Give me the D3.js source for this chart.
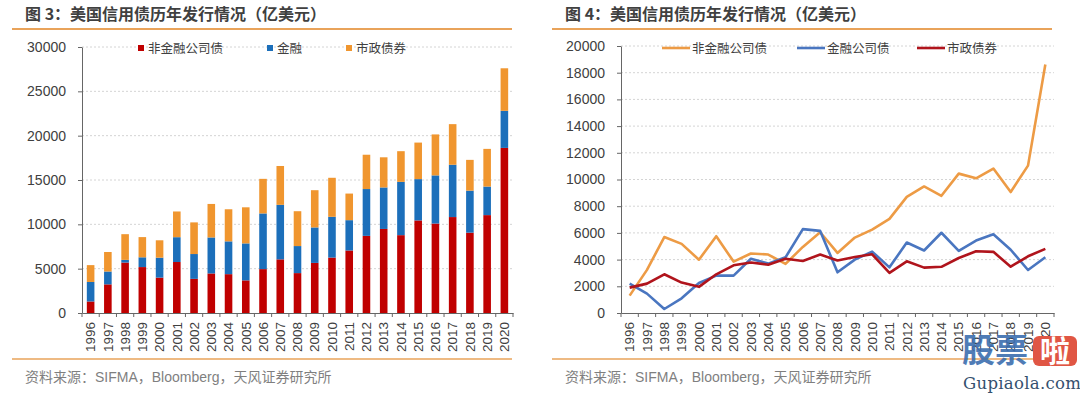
<!DOCTYPE html>
<html>
<head>
<meta charset="utf-8">
<script src="https://cdn.jsdelivr.net/npm/d3@7"></script>
<style>
  body { margin: 0; background: #fff; }
  svg { display: block; font-family: "Liberation Sans", "Noto Sans CJK SC", sans-serif; }
</style>
</head>
<body>
<svg id="chart" width="1080" height="393"></svg>
<script>
// 年份
const years = ["1996","1997","1998","1999","2000","2001","2002","2003","2004","2005","2006","2007","2008",
	"2009","2010","2011","2012","2013","2014","2015","2016","2017","2018","2019","2020"];
// 非金融公司债
const nonFin = [1300, 3230, 5690, 5180, 3990, 5750, 3850, 4460, 4380, 3680, 4950, 6050, 4500,
	5650, 6250, 7050, 8700, 9480, 8780, 10440, 10090, 10820, 9060, 11040, 18620];
// 金融公司债
const fin = [2200, 1450, 300, 1100, 2250, 2800, 2800, 4060, 3700, 4170, 6280, 6150, 3050,
	4000, 4600, 3420, 5280, 4680, 6010, 4660, 5430, 5900, 4740, 3220, 4180];
// 市政债券
const muni = [1900, 2200, 2900, 2280, 1960, 2900, 3570, 3780, 3620, 4070, 3900, 4380, 3930,
	4200, 4400, 3000, 3870, 3400, 3460, 4120, 4620, 4580, 3470, 4250, 4800];

const barTicks = [0, 5000, 10000, 15000, 20000, 25000, 30000];
const lineTicks = [0, 2000, 4000, 6000, 8000, 10000, 12000, 14000, 16000, 18000, 20000];

const svg = d3.select("#chart");

function frame(x0, title) {
	svg.append("text")
		.attr("x", x0 + 25).attr("y", 20)
		.attr("font-family", "Noto Sans CJK SC")
		.attr("font-weight", "bold")
		.attr("font-size", 16)
		.attr("fill", "#404040")
		.text(title);
	svg.append("line")
		.attr("x1", x0 + 12).attr("x2", x0 + 512)
		.attr("y1", 29).attr("y2", 29)
		.attr("stroke", "#e9a35a").attr("stroke-width", 2);
	svg.append("line")
		.attr("x1", x0 + 12).attr("x2", x0 + 512)
		.attr("y1", 359).attr("y2", 359)
		.attr("stroke", "#e9a35a").attr("stroke-width", 1.5);
	svg.append("text")
		.attr("x", x0 + 25).attr("y", 382)
		.attr("font-size", 14)
		.attr("fill", "#7f7f7f")
		.text("资料来源：SIFMA，Bloomberg，天风证券研究所");
}

function axes(g, x, y, ticks, left, right) {
	// grid
	g.selectAll(".grid").data(ticks.slice(1)).enter()
		.append("line")
		.attr("x1", left).attr("x2", right)
		.attr("y1", d => y(d)).attr("y2", d => y(d))
		.attr("stroke", "#d4d4d4")
		.attr("stroke-dasharray", "2,2");

	let yAxis = g.append("g")
		.attr("transform", `translate(${left},0)`)
		.call(d3.axisLeft(y).tickValues(ticks).tickSize(4).tickSizeOuter(0).tickFormat(d3.format("d")));
	yAxis.selectAll("text").attr("font-size", 14).attr("fill", "#404040").attr("x", -16);

	let xAxis = g.append("g")
		.attr("transform", `translate(0,${y(0)})`)
		.call(d3.axisBottom(x).tickSize(0).tickSizeOuter(0));
	xAxis.selectAll("text")
		.attr("transform", "rotate(-90)")
		.attr("x", -9).attr("y", 0).attr("dy", "0.35em")
		.attr("text-anchor", "end")
		.attr("font-size", 13.5)
		.attr("fill", "#404040");
	// category boundary ticks
	xAxis.selectAll(".sep").data(years.concat(["end"])).enter()
		.append("line")
		.attr("x1", (d, i) => left + i * x.step())
		.attr("x2", (d, i) => left + i * x.step())
		.attr("y1", 0).attr("y2", 4)
		.attr("stroke", "#666");
	g.selectAll(".domain").attr("stroke", "#666");
	g.selectAll(".tick line").attr("stroke", "#666");
}

// ---- 图 3 stacked bars
frame(0, "图 3：美国信用债历年发行情况（亿美元）");
{
	const left = 82, right = 513, top = 47, bottom = 313;
	const g = svg.append("g");
	const x = d3.scaleBand().domain(years).range([left, right]).padding(0);
	const y = d3.scaleLinear().domain([0, 30000]).range([bottom, top]);
	axes(g, x, y, barTicks, left, right);

	const rows = years.map((yr, i) => ({year: yr, nonFin: nonFin[i], fin: fin[i], muni: muni[i]}));
	const keys = ["nonFin", "fin", "muni"];
	const colors = {nonFin: "#c00000", fin: "#1c6fba", muni: "#f0962f"};
	const stack = d3.stack().keys(keys)(rows);
	const bw = x.bandwidth() * 0.44;

	g.selectAll(".layer").data(stack).enter()
		.append("g")
		.attr("fill", d => colors[d.key])
		.selectAll("rect").data(d => d).enter()
		.append("rect")
		.attr("x", d => x(d.data.year) + (x.bandwidth() - bw) / 2)
		.attr("width", bw)
		.attr("y", d => y(d[1]))
		.attr("height", d => y(d[0]) - y(d[1]));

	const legend = [
		{name: "非金融公司债", key: "nonFin", x: 138},
		{name: "金融", key: "fin", x: 267},
		{name: "市政债券", key: "muni", x: 346}
	];
	legend.forEach(l => {
		g.append("rect").attr("x", l.x).attr("y", 45).attr("width", 6).attr("height", 6).attr("fill", colors[l.key]);
		g.append("text").attr("x", l.x + 10).attr("y", 52.5)
			.attr("font-size", 12.5).attr("fill", "#404040").text(l.name);
	});
}

// ---- 图 4 lines
frame(540, "图 4：美国信用债历年发行情况（亿美元）");
{
	const left = 621, right = 1054, top = 46, bottom = 313;
	const g = svg.append("g");
	const x = d3.scaleBand().domain(years).range([left, right]).padding(0);
	const y = d3.scaleLinear().domain([0, 20000]).range([bottom, top]);
	axes(g, x, y, lineTicks, left, right);

	const series = [
		{name: "非金融公司债", values: nonFin, color: "#ed9b45", lx: 662},
		{name: "金融公司债", values: fin, color: "#4a76c0", lx: 797},
		{name: "市政债券", values: muni, color: "#b0141c", lx: 917}
	];
	const line = d3.line()
		.x((d, i) => x(years[i]) + x.bandwidth() / 2)
		.y(d => y(d));

	series.forEach(s => {
		g.append("path")
			.attr("d", line(s.values))
			.attr("fill", "none")
			.attr("stroke", s.color)
			.attr("stroke-width", 2.6)
			.attr("stroke-linejoin", "round");
		g.append("line")
			.attr("x1", s.lx).attr("x2", s.lx + 28)
			.attr("y1", 48).attr("y2", 48)
			.attr("stroke", s.color).attr("stroke-width", 2.6);
		g.append("text").attr("x", s.lx + 30).attr("y", 52.5)
			.attr("font-size", 12.5).attr("fill", "#404040").text(s.name);
	});
}

// watermark
svg.append("text")
	.attr("x", 962).attr("y", 362)
	.attr("font-family", "Noto Sans CJK SC").attr("font-weight", "bold")
	.attr("font-size", 33).attr("fill", "#3c6eaf").attr("opacity", 0.9)
	.text("股票");
svg.append("rect")
	.attr("x", 1033).attr("y", 336).attr("width", 44).attr("height", 30).attr("rx", 6)
	.attr("fill", "#e05644");
svg.append("text")
	.attr("x", 1055).attr("y", 362).attr("text-anchor", "middle")
	.attr("font-family", "Noto Sans CJK SC").attr("font-weight", "bold")
	.attr("font-size", 30).attr("fill", "#fff")
	.text("啦");
svg.append("text")
	.attr("x", 963).attr("y", 389)
	.attr("font-family", "DejaVu Serif").attr("font-size", 16.5)
	.attr("fill", "#34506e").attr("letter-spacing", 0.3)
	.text("Gupiaola.com");
</script>
</body>
</html>
